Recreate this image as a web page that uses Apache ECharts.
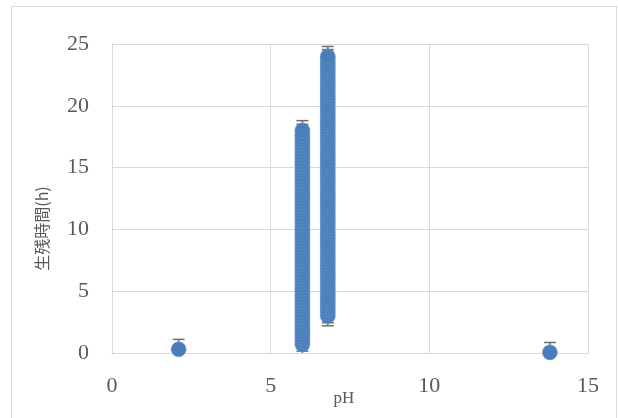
<!DOCTYPE html>
<html>
<head>
<meta charset="utf-8">
<script src="https://cdn.jsdelivr.net/npm/echarts@6/dist/echarts.min.js"></script>
<style>html,body{margin:0;padding:0;background:#fff}#c{width:618px;height:418px}</style>
</head>
<body>
<div id="c"></div>
<script>
// pH of each group
const groupPH = [2.1, 6.0, 6.8, 13.8];
// survival times (h) observed in each group
const hoursPH21 = [0.3];
const hoursPH60 = [0.7,0.95,1.2,1.45,1.7,1.95,2.2,2.45,2.7,2.95,3.2,3.45,3.7,3.95,4.2,4.45,4.7,4.95,5.2,5.45,5.7,5.95,6.2,6.45,6.7,6.95,7.2,7.45,7.7,7.95,8.2,8.45,8.7,8.95,9.2,9.45,9.7,9.95,10.2,10.45,10.7,10.95,11.2,11.45,11.7,11.95,12.2,12.45,12.7,12.95,13.2,13.45,13.7,13.95,14.2,14.45,14.7,14.95,15.2,15.45,15.7,15.95,16.2,16.45,16.7,16.95,17.2,17.45,17.7,18.0];
const hoursPH68 = [3.0,3.25,3.5,3.75,4.0,4.25,4.5,4.75,5.0,5.25,5.5,5.75,6.0,6.25,6.5,6.75,7.0,7.25,7.5,7.75,8.0,8.25,8.5,8.75,9.0,9.25,9.5,9.75,10.0,10.25,10.5,10.75,11.0,11.25,11.5,11.75,12.0,12.25,12.5,12.75,13.0,13.25,13.5,13.75,14.0,14.25,14.5,14.75,15.0,15.25,15.5,15.75,16.0,16.25,16.5,16.75,17.0,17.25,17.5,17.75,18.0,18.25,18.5,18.75,19.0,19.25,19.5,19.75,20.0,20.25,20.5,20.75,21.0,21.25,21.5,21.75,22.0,22.25,22.5,22.75,23.0,23.25,23.5,23.75,24.0];
const hoursPH138 = [0.05];
const errorH = 0.8;
const xTicks = [0, 5, 10, 15];
const yTicks = [0, 5, 10, 15, 20, 25];

const groups = [hoursPH21, hoursPH60, hoursPH68, hoursPH138];
const points = [];
groups.forEach((arr, i) => arr.forEach(h => points.push([groupPH[i], h])));
const errData = points.map(p => [p[0], p[1] - errorH, p[1] + errorH]);

const chart = echarts.init(document.getElementById('c'), null, {renderer: 'canvas'});
const serif = '"Liberation Serif", "DejaVu Serif", serif';
const grey = '#595959';
const gridCol = '#d9d9d9';

chart.setOption({
  animation: false,
  backgroundColor: '#fff',
  graphic: [{
    type: 'rect', silent: true, z: -10,
    shape: {x: 11.5, y: 6.5, width: 605, height: 420},
    style: {fill: 'none', stroke: '#d9d9d9', lineWidth: 1}
  }],
  grid: {left: 112, right: 30, top: 44, bottom: 65, containLabel: false, outerBoundsMode: 'none'},
  xAxis: {
    type: 'value', min: xTicks[0], max: xTicks[xTicks.length - 1], interval: 5,
    name: 'pH', nameLocation: 'middle', nameGap: 37, nameMoveOverlap: false,
    nameTextStyle: {fontFamily: serif, fontSize: 17, color: grey, padding: [0, 12, 0, 0]},
    axisLine: {show: true, lineStyle: {color: gridCol, width: 1}},
    axisTick: {show: false},
    axisLabel: {fontFamily: serif, fontSize: 22, color: grey, margin: 22},
    splitLine: {show: true, lineStyle: {color: gridCol, width: 1}}
  },
  yAxis: {
    type: 'value', min: yTicks[0], max: yTicks[yTicks.length - 1], interval: 5,
    name: '生残時間(h)', nameLocation: 'middle', nameGap: 62, nameRotate: 90, nameMoveOverlap: false,
    nameTextStyle: {fontFamily: '"Noto Sans CJK JP", ' + serif, fontSize: 16, color: grey, padding: [0, 60, 0, 0]},
    axisLine: {show: true, lineStyle: {color: gridCol, width: 1}},
    axisTick: {show: false},
    axisLabel: {fontFamily: serif, fontSize: 22, color: grey, margin: 23, padding: [0, 0, 7, 0]},
    splitLine: {show: true, lineStyle: {color: gridCol, width: 1}}
  },
  series: [
    {
      type: 'custom',
      z: 1,
      clip: true,
      data: errData,
      renderItem: function (params, api) {
        const x = api.value(0);
        const lo = api.coord([x, api.value(1)]);
        const hi = api.coord([x, api.value(2)]);
        const cap = 6;
        const st = {stroke: '#6e6e6e', lineWidth: 1.5};
        return {
          type: 'group',
          children: [
            {type: 'line', shape: {x1: lo[0], y1: lo[1], x2: hi[0], y2: hi[1]}, style: st},
            {type: 'line', shape: {x1: hi[0] - cap, y1: hi[1], x2: hi[0] + cap, y2: hi[1]}, style: st},
            {type: 'line', shape: {x1: lo[0] - cap, y1: lo[1], x2: lo[0] + cap, y2: lo[1]}, style: st}
          ]
        };
      }
    },
    {
      type: 'scatter',
      z: 2,
      data: points,
      symbol: 'circle',
      symbolSize: 15,
      itemStyle: {color: '#4a7ebb', borderColor: '#6a96cc', borderWidth: 0.6, opacity: 1}
    }
  ]
});
</script>
</body>
</html>
